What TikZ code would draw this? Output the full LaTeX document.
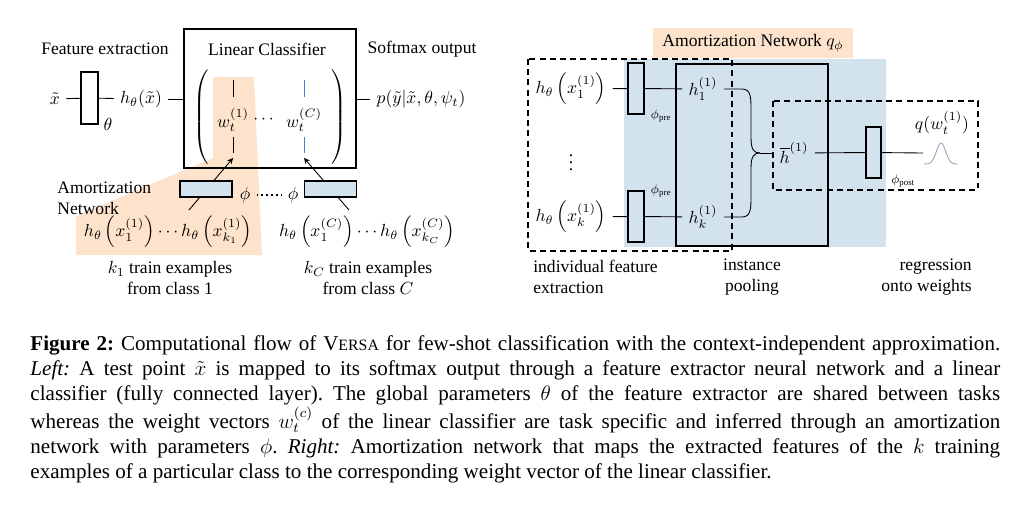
\documentclass[tikz,border=0pt]{standalone}
\usepackage{amsmath}
\usepackage{amssymb}
\usepackage{fontspec}
\setmainfont{Liberation Serif}
\usepackage{xcolor}
\usepackage{tikz}
\usetikzlibrary{arrows,positioning,calc}
\definecolor{peach}{RGB}{253,226,204}
\definecolor{paleblue}{RGB}{210,227,238}
\definecolor{wblue}{RGB}{60,130,205}
\definecolor{gausscol}{RGB}{150,165,185}
\tikzstyle{layer} = [draw, line width=0.6pt, inner sep=0pt]
\tikzstyle{amort} = [layer, fill=paleblue]
\tikzstyle{arrow} = [->,>=stealth]
\tikzstyle{dashbox} = [dashed, line width=0.6pt, dash pattern=on 3.4pt off 2.4pt]
\newcommand{\versa}{V{\fontsize{9}{10}\selectfont ERSA}}
\frenchspacing

\begin{document}
\begin{tikzpicture}[x=0.02cm, y=-0.02cm, line width=0.5pt]
    \useasboundingbox (0,0) rectangle (1026,504);
    \fill[peach] (213,77) -- (254,77) -- (262,255) -- (76,255) -- (76,216) -- (213,158) -- cycle;
    \node (tfe) at (105,49) {Feature extraction};
    \node (tlc) at (267,49) {Linear Classifier};
    \node (tso) at (422,49) {Softmax output};
    \node[layer, minimum width=3.44cm, minimum height=2.78cm] (lin) at (270,98.5) {};
    \node (xt) at (55,99) {$\tilde{x}$};
    \node[layer, minimum width=0.34cm, minimum height=1.04cm] (fe) at (89.5,98) {};
    \node (theta) at (108,124) {$\theta$};
    \node (hx) at (141,99) {$h_\theta(\tilde{x})$};
    \node (py) at (421,99) {$p(\tilde{y}|\tilde{x},\theta,\psi_t)$};
    \draw (xt) -- (fe);
    \draw (fe) -- (hx);
    \draw (hx.east) -- (hx.east -| lin.west);
    \draw (py.west -| lin.east) -- (py);
    \node (lpar) at (202,117) {$\left(\vrule height 0.86cm depth 0.86cm width 0pt\right.$};
    \node (rpar) at (338,117) {$\left.\vrule height 0.86cm depth 0.86cm width 0pt\right)$};
    \node (w1) at (233,120) {$w_t^{(1)}$};
    \node (wdots) at (265,120) {$\cdots$};
    \node (wC) at (304,120) {$w_t^{(C)}$};
    \draw (233,80) -- (233,97);
    \draw (233,137) -- (233,153);
    \draw[wblue] (304,80) -- (304,97);
    \draw[wblue] (304,137) -- (304,153);
    \coordinate (w1b) at (233,158);
    \coordinate (wCb) at (304,158);
    \coordinate (a1) at (189,210);
    \coordinate (aC) at (349,210);
    \draw[arrow] (a1) -- (w1b);
    \draw[arrow] (aC) -- (wCb);
    \node[amort, minimum width=1.04cm, minimum height=0.32cm] (am1) at (206,189) {};
    \node[amort, minimum width=1.04cm, minimum height=0.32cm] (amC) at (330.5,189) {};
    \node (phi1) at (245,195) {$\phi$};
    \node (phiC) at (293,195) {$\phi$};
    \draw[dotted, thick] (phi1) -- (phiC);
    \node[anchor=west, align=left, inner sep=0pt] (amlbl) at (57,198) {Amortization\\Network};
    \node (ex1) at (168,232) {$h_\theta\left(x_1^{(1)}\right)\cdots h_\theta\left(x_{k_1}^{(1)}\right)$};
    \node (exC) at (367,232) {$h_\theta\left(x_1^{(C)}\right)\cdots h_\theta\left(x_{k_C}^{(C)}\right)$};
    \node[align=center] (lb1) at (170,278) {$k_1$ train examples\\from class 1};
    \node[align=center] (lbC) at (368,278) {$k_C$ train examples\\from class $C$};

    \node[fill=peach, minimum width=4cm, minimum height=0.6cm] (amtitle) at (753,43) {Amortization Network $q_\phi$};
    \fill[paleblue] (624,59) rectangle (886,247);
    \draw[dashbox] (528,59) rectangle (732,251);
    \draw[dashbox] (773,101) rectangle (978,190);
    \draw[line width=0.6pt] (676,64) rectangle (828,246);
    \node (hx1) at (571,89) {$h_\theta\left(x_1^{(1)}\right)$};
    \node[amort, minimum width=0.32cm, minimum height=1.02cm] (pre1) at (636,88.5) {};
    \node[font=\scriptsize] (phipre1) at (661,116) {$\phi_{\mathrm{pre}}$};
    \node (h1) at (703,89) {$h_1^{(1)}$};
    \node (vd) at (571,157) {$\vdots$};
    \node (hxk) at (571,217) {$h_\theta\left(x_k^{(1)}\right)$};
    \node[amort, minimum width=0.32cm, minimum height=1.02cm] (prek) at (636,216.5) {};
    \node[font=\scriptsize] (phiprek) at (661,191) {$\phi_{\mathrm{pre}}$};
    \node (hk) at (703,217) {$h_k^{(1)}$};
    \draw (hx1) -- (pre1);
    \draw (pre1) -- (h1);
    \draw (hxk) -- (prek);
    \draw (prek) -- (hk);
    \coordinate (brace) at (760,153);
    \draw (h1.east) -- (742,89) .. controls (751,89) and (751,98) .. (751,110) -- (751,138) .. controls (751,150) and (754,153) .. (brace);
    \draw (hk.east) -- (742,217) .. controls (751,217) and (751,208) .. (751,196) -- (751,168) .. controls (751,156) and (754,153) .. (brace);
    \node (hbar) at (794,153) {$\overline{h}^{(1)}$};
    \draw (brace) -- (hbar);
    \node[amort, minimum width=0.30cm, minimum height=1.02cm] (post) at (873.5,152.5) {};
    \node[font=\scriptsize] (phipost) at (903,181) {$\phi_{\mathrm{post}}$};
    \coordinate (g0) at (923,153);
    \draw (hbar) -- (post);
    \draw (post) -- (g0);
    \draw[gausscol] plot[domain=-1:1, samples=40] ({941+17*\x},{164-21*exp(-7*\x*\x)});
    \node (qw) at (942,123) {$q(w_t^{(1)})$};
    \node[anchor=west, align=left] (lbind) at (527,277) {individual feature\\extraction};
    \node[align=center] (lbpool) at (752,277) {instance\\pooling};
    \node[anchor=east, align=right] (lbreg) at (978,277) {regression\\onto weights};

    \node[anchor=north west, text width=19.4cm, align=justify, inner sep=0pt, font=\fontsize{12}{14.3}\selectfont] (cap) at (30,335) {\textbf{Figure 2:} Computational flow of \versa{} for few-shot classification with the context-independent approximation.\linebreak
    \textit{Left:} A test point $\tilde{x}$ is mapped to its softmax output through a feature extractor neural network and a linear\linebreak
    classifier (fully connected layer). The global parameters $\theta$ of the feature extractor are shared between tasks\linebreak
    whereas the weight vectors $w_t^{(c)}$ of the linear classifier are task specific and inferred through an amortization\linebreak
    network with parameters $\phi$. \textit{Right:} Amortization network that maps the extracted features of the $k$ training\linebreak
    examples of a particular class to the corresponding weight vector of the linear classifier.};
\end{tikzpicture}
\end{document}
